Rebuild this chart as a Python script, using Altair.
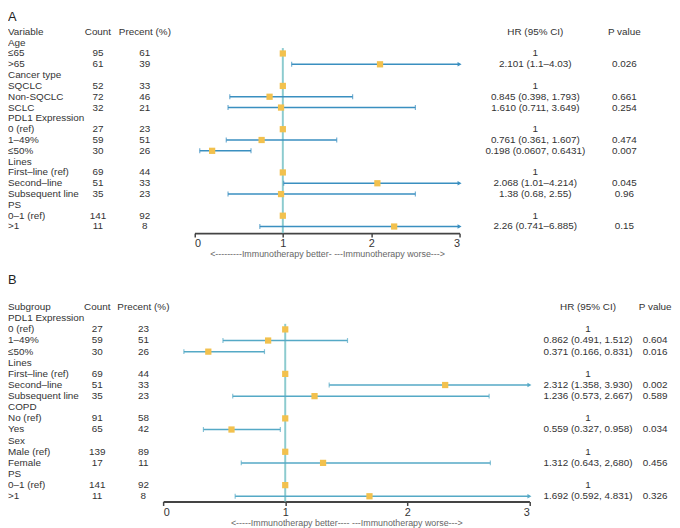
import altair as alt
import pandas as pd

# ---------------- Panel A data ----------------
A_labels = ["Variable", "Age", "≤65", ">65", "Cancer type", "SQCLC", "Non-SQCLC", "SCLC",
            "PDL1 Expression", "0 (ref)", "1–49%", "≤50%", "Lines", "First–line (ref)",
            "Second–line", "Subsequent line", "PS", "0–1 (ref)", ">1"]
A_count = ["Count", "", "95", "61", "", "52", "72", "32", "", "27", "59", "30", "",
           "69", "51", "35", "", "141", "11"]
A_pct = ["Precent (%)", "", "61", "39", "", "33", "46", "21", "", "23", "51", "26", "",
         "44", "33", "23", "", "92", "8"]
A_hr_text = ["HR (95% CI)", "", "1", "2.101 (1.1–4.03)", "", "1", "0.845 (0.398, 1.793)",
             "1.610 (0.711, 3.649)", "", "1", "0.761 (0.361, 1.607)", "0.198 (0.0607, 0.6431)",
             "", "1", "2.068 (1.01–4.214)", "1.38 (0.68, 2.55)", "", "1", "2.26 (0.741–6.885)"]
A_p_text = ["P value", "", "", "0.026", "", "", "0.661", "0.254", "", "", "0.474", "0.007",
            "", "", "0.045", "0.96", "", "", "0.15"]
# plotted estimates (read from the drawn marks)
A_hr = [None, None, 1, 2.10, None, 1, 0.85, 0.98, None, 1, 0.76, 0.20, None, 1, 2.07, 0.98, None, 1, 2.26]
A_lo = [None, None, None, 1.10, None, None, 0.40, 0.38, None, None, 0.36, 0.06, None, None, 1.01, 0.38, None, None, 0.74]
A_hi = [None, None, None, 4.03, None, None, 1.79, 2.50, None, None, 1.61, 0.64, None, None, 4.214, 2.50, None, None, 6.885]

# ---------------- Panel B data ----------------
B_labels = ["Subgroup", "PDL1 Expression", "0 (ref)", "1–49%", "≤50%", "Lines", "First–line (ref)",
            "Second–line", "Subsequent line", "COPD", "No (ref)", "Yes", "Sex", "Male (ref)",
            "Female", "PS", "0–1 (ref)", ">1"]
B_count = ["Count", "", "27", "59", "30", "", "69", "51", "35", "", "91", "65", "", "139", "17",
           "", "141", "11"]
B_pct = ["Precent (%)", "", "23", "51", "26", "", "44", "33", "23", "", "58", "42", "", "89", "11",
         "", "92", "8"]
B_hr_text = ["HR (95% CI)", "", "1", "0.862 (0.491, 1.512)", "0.371 (0.166, 0.831)", "", "1",
             "2.312 (1.358, 3.930)", "1.236 (0.573, 2.667)", "", "1", "0.559 (0.327, 0.958)", "",
             "1", "1.312 (0.643, 2,680)", "", "1", "1.692 (0.592, 4.831)"]
B_p_text = ["P value", "", "", "0.604", "0.016", "", "", "0.002", "0.589", "", "", "0.034", "",
            "", "0.456", "", "", "0.326"]
B_hr = [None, None, 1, 0.86, 0.37, None, 1, 2.31, 1.24, None, 1, 0.56, None, 1, 1.31, None, 1, 1.69]
B_lo = [None, None, None, 0.49, 0.17, None, None, 1.36, 0.57, None, None, 0.33, None, None, 0.64, None, None, 0.59]
B_hi = [None, None, None, 1.51, 0.83, None, None, 3.93, 2.67, None, None, 0.96, None, None, 2.68, None, None, 4.83]

TICKS = [0, 1, 2, 3]
XMAX = 3
FONT = "Liberation Sans"
TXT = "#333333"
SQ = "#f2c14e"
VLINE = "#8ccbcf"


def build(letter, labels, count, pct, hr_text, p_text, hr, lo, hi,
          height, yrange, xrange, cols, ci_color, axis_title):
    n = len(labels)
    df = pd.DataFrame({
        "row": list(range(n)), "label": labels, "count": count, "pct": pct,
        "hr_text": hr_text, "p_text": p_text, "hr": hr, "lo": lo, "hi": hi,
    })
    df["hi_c"] = df["hi"].clip(upper=XMAX)
    df["arrow"] = df["hi"] > XMAX
    yscale = alt.Scale(domain=[0, n - 1], range=yrange)
    xscale = alt.Scale(domain=[0, XMAX], range=xrange, nice=False, zero=False)
    Y = alt.Y("row:Q", scale=yscale, axis=None)

    base = alt.Chart(df)

    def txt(field, xpos, align):
        return base.mark_text(align=align, baseline="middle", font=FONT, fontSize=10,
                              color=TXT).encode(x=alt.value(xpos), y=Y, text=f"{field}:N")

    texts = [txt("label", 0, "left"), txt("count", cols[0], "center"),
             txt("pct", cols[1], "center"), txt("hr_text", cols[2], "center"),
             txt("p_text", cols[3], "center")]

    first = int(df.dropna(subset=["hr"])["row"].min())
    vline = alt.Chart(pd.DataFrame({"x": [1], "y": [first - 0.5]})).mark_rule(
        color=VLINE, strokeWidth=2).encode(
        x=alt.X("x:Q", scale=xscale,
                axis=alt.Axis(values=TICKS, format="d", title=axis_title, grid=False,
                              tickSize=4, tickColor="#444444", domainColor="#444444",
                              domainWidth=1.8, tickWidth=1.5, labelFont=FONT,
                              labelFontSize=11, labelColor=TXT, labelPadding=1,
                              titleFont=FONT, titleFontSize=9, titleFontWeight="normal",
                              titleColor="#666666", titlePadding=1)),
        y=alt.Y("y:Q", scale=yscale, axis=None), y2=alt.value(height))

    ci = base.transform_filter("isValid(datum.lo)")
    rules = ci.mark_rule(color=ci_color, strokeWidth=1.5).encode(
        x=alt.X("lo:Q", scale=xscale), x2="hi_c:Q", y=Y)
    cap_lo = ci.mark_tick(color=ci_color, orient="vertical", size=5, thickness=1.2).encode(
        x=alt.X("lo:Q", scale=xscale), y=Y)
    cap_hi = ci.transform_filter("!datum.arrow").mark_tick(
        color=ci_color, orient="vertical", size=5, thickness=1.2).encode(
        x=alt.X("hi_c:Q", scale=xscale), y=Y)
    arrows = ci.transform_filter("datum.arrow").mark_point(
        shape="triangle-right", filled=True, color=ci_color, size=22, opacity=1).encode(
        x=alt.X("hi_c:Q", scale=xscale), y=Y)
    squares = base.transform_filter("isValid(datum.hr)").mark_square(
        color=SQ, size=40, opacity=1).encode(x=alt.X("hr:Q", scale=xscale), y=Y)

    tag = alt.Chart(pd.DataFrame({"t": [letter]})).mark_text(
        align="left", baseline="top", font=FONT, fontSize=13, color="#222222").encode(
        x=alt.value(0), y=alt.value(0), text="t:N")

    return alt.layer(vline, rules, cap_lo, cap_hi, arrows, squares, *texts, tag).properties(
        width=664, height=height)


chartA = build("A", A_labels, A_count, A_pct, A_hr_text, A_p_text, A_hr, A_lo, A_hi,
               height=224.7, yrange=[21, 218], xrange=[188.7, 457],
               cols=[91, 138.5, 533.7, 623.7], ci_color="#3a8fc0",
               axis_title="<---------Immunotherapy better-  ---Immunotherapy worse--->")
chartB = build("B", B_labels, B_count, B_pct, B_hr_text, B_p_text, B_hr, B_lo, B_hi,
               height=230, yrange=[33.3, 224.7], xrange=[157, 527.7],
               cols=[90.3, 137, 587, 655], ci_color="#55a9c6",
               axis_title="<-----Immunotherapy better----  ---Immunotherapy worse--->")

chart = alt.vconcat(chartA, chartB, spacing=41.3, bounds="flush").properties(
    padding=0).configure_view(stroke=None)

chart.save("out.html", embed_options={"renderer": "svg", "actions": False})
